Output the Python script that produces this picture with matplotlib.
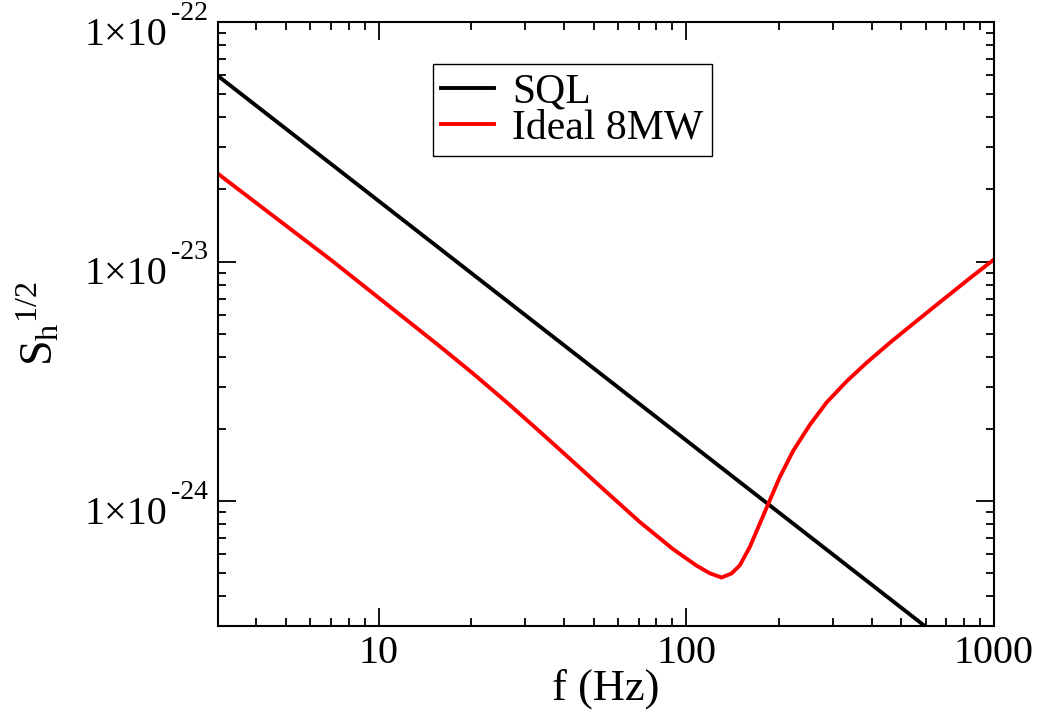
import matplotlib
matplotlib.use("Agg")
import matplotlib.pyplot as plt
from matplotlib.ticker import FuncFormatter, LogLocator, NullFormatter
import numpy as np

# Data
f_sql = [3, 1000]
h_sql = [5.97e-23, 1.79e-25]

f_ideal = [3.0, 7.09, 15.79, 20.26, 26.02, 33.39, 42.85, 55.02, 70.62, 90.59,
           108.0, 119.2, 130.2, 140.3, 149.3, 160.9, 173.4, 186.8, 201.4,
           222.5, 252.1, 285.8, 331.9, 385.5, 453.3, 507.2, 651.3, 835.6, 1000.0]
h_ideal = [2.33e-23, 1.003e-23, 4.43e-24, 3.41e-24, 2.59e-24, 1.95e-24, 1.46e-24,
           1.09e-24, 8.17e-25, 6.29e-25, 5.37e-25, 4.99e-25, 4.79e-25, 4.98e-25,
           5.39e-25, 6.43e-25, 8.05e-25, 1.007e-24, 1.26e-24, 1.62e-24, 2.08e-24,
           2.58e-24, 3.16e-24, 3.78e-24, 4.52e-24, 5.09e-24, 6.60e-24, 8.53e-24,
           1.02e-23]

labels = ['SQL', 'Ideal 8MW']

plt.rcParams['font.family'] = 'Liberation Serif'
plt.rcParams['mathtext.fontset'] = 'custom'
plt.rcParams['mathtext.rm'] = 'Liberation Serif'
plt.rcParams['mathtext.it'] = 'Liberation Serif'
plt.rcParams['font.size'] = 28

fig = plt.figure(figsize=(10.37, 7.14), dpi=100)
ax = fig.add_axes([0.210, 0.123, 0.7485, 0.846])

ax.plot(f_sql, h_sql, color='black', lw=2.8, label=labels[0])
ax.plot(f_ideal, h_ideal, color='red', lw=2.8, label=labels[1])

ax.set_xscale('log')
ax.set_yscale('log')
ax.set_xlim(3, 1000)
ax.set_ylim(3.0e-25, 1e-22)

ax.yaxis.set_major_locator(LogLocator(base=10, numticks=10))
ax.yaxis.set_minor_locator(LogLocator(base=10, subs=np.arange(2, 10), numticks=10))
ax.yaxis.set_major_formatter(NullFormatter())
ax.xaxis.set_major_formatter(FuncFormatter(lambda v, p: '%d' % v))

ax.tick_params(which='major', direction='in', length=13, width=1.3,
               top=True, right=True, labelsize=29, pad=6)
ax.tick_params(which='minor', direction='in', length=6, width=1.3,
               top=True, right=True)
for s in ax.spines.values():
    s.set_linewidth(1.5)

# y tick labels in grace style: "1x10" with a raised "-NN"
ymin, ymax = ax.get_ylim()
ytr = ax.get_yaxis_transform()
for v in ax.get_yticks():
    if v < ymin * 0.999 or v > ymax * 1.001:
        continue
    e = int(round(np.log10(v)))
    ax.annotate('1\u00d710', xy=(0, v), xycoords=ytr, xytext=(-36.5, -16.5),
                textcoords='offset points', ha='right', va='baseline',
                fontsize=29, annotation_clip=False)
    ax.annotate('%d' % e, xy=(0, v), xycoords=ytr, xytext=(-34.0, 1.5),
                textcoords='offset points', ha='left', va='baseline',
                fontsize=20, annotation_clip=False)

ax.set_xlabel('f (Hz)', fontsize=32, labelpad=-2)
ax.set_ylabel(r'$\mathregular{S_h{}^{1/2}}$', fontsize=33)
ax.yaxis.set_label_coords(-0.2, 0.5)

leg = ax.legend(loc='upper left', bbox_to_anchor=(0.277, 0.930), fontsize=30,
                fancybox=False, edgecolor='black', framealpha=1,
                handlelength=1.27, labelspacing=-0.05, borderpad=0.2,
                handletextpad=0.43, borderaxespad=0)
leg.get_frame().set_linewidth(1.0)

fig.savefig('out.png', dpi=100)
